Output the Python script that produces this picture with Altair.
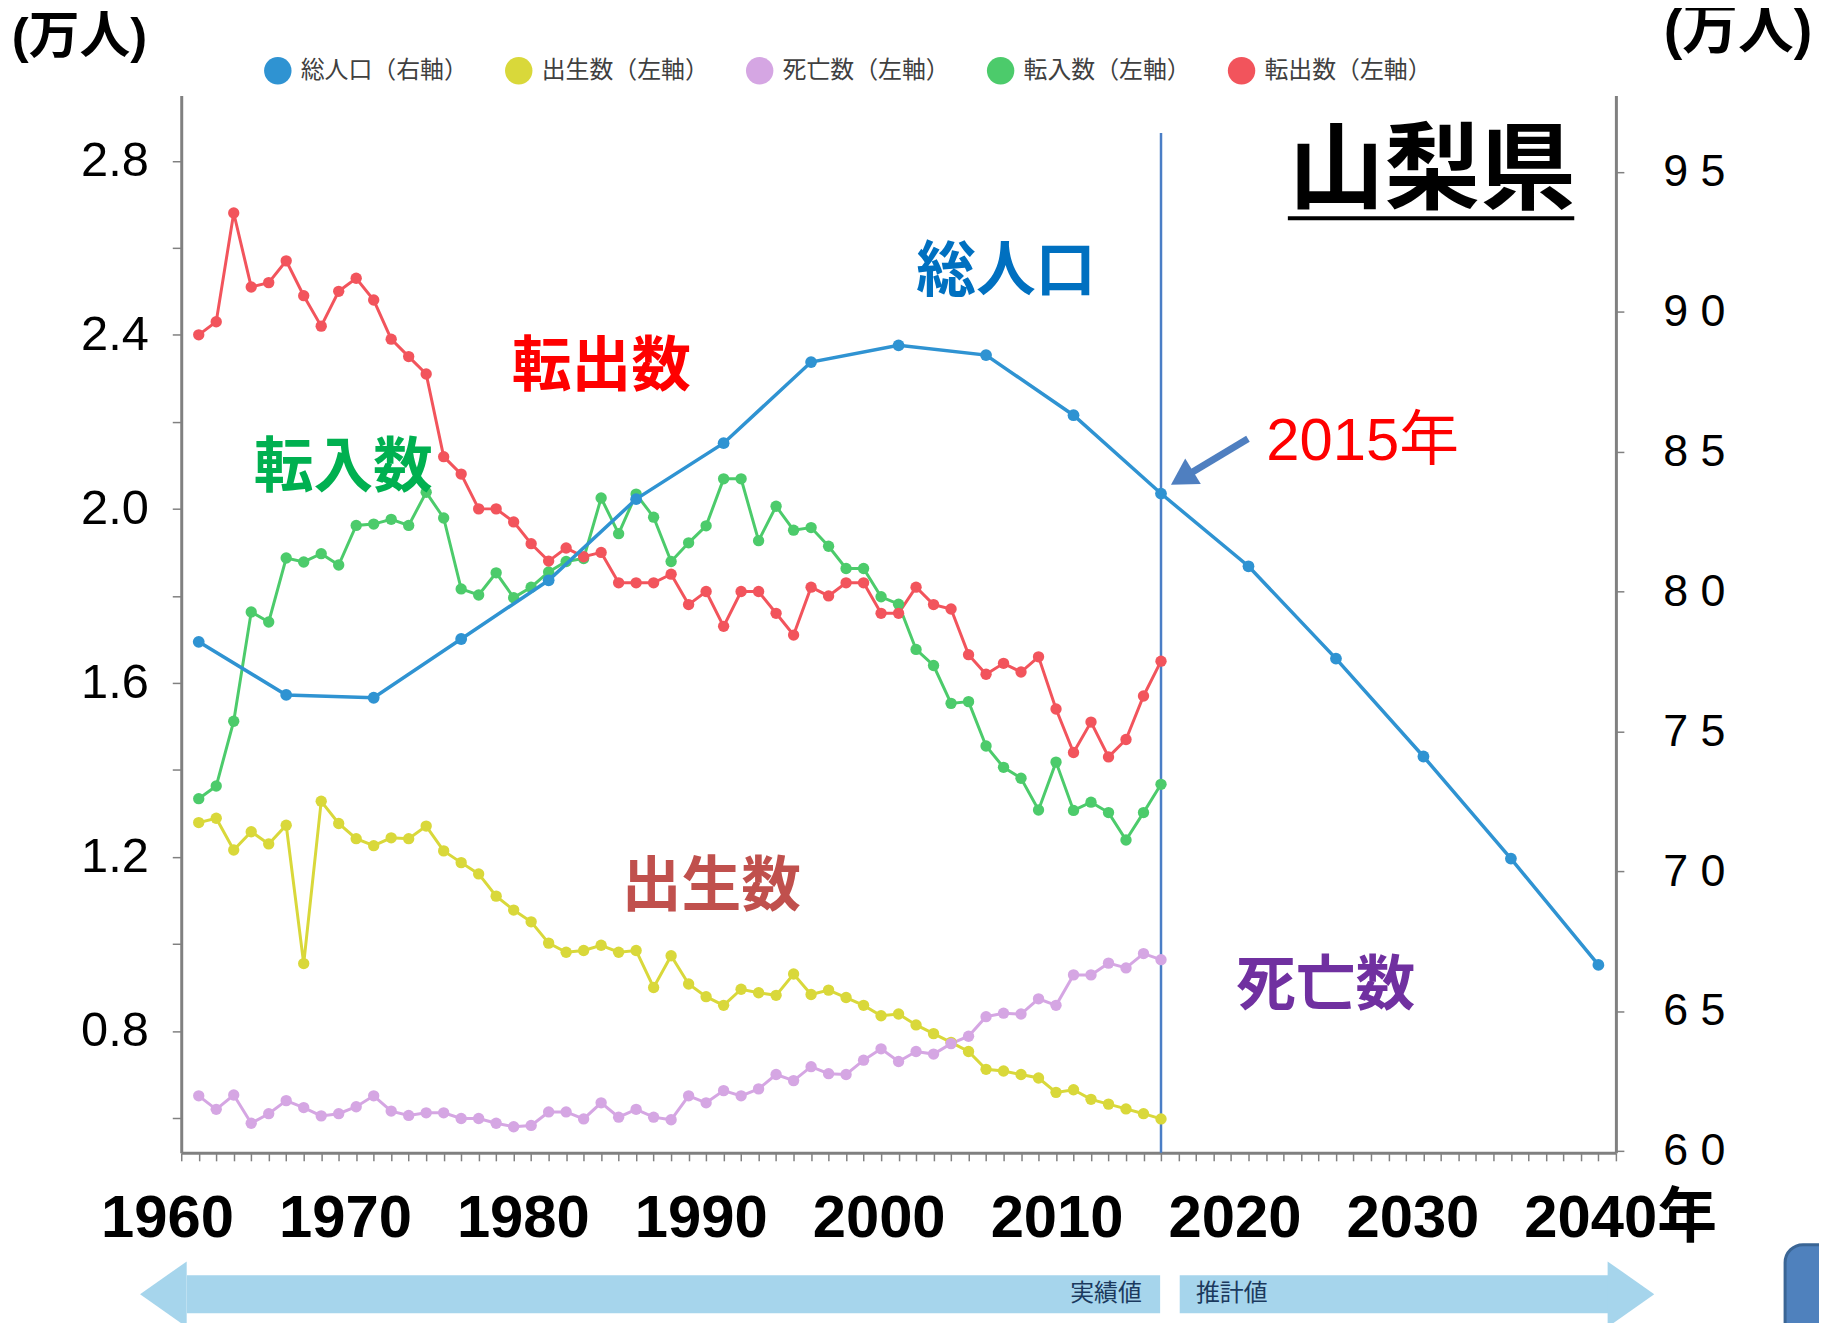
import altair as alt
import pandas as pd

# ---------------- data (万人) ----------------
years = list(range(1960, 2016))
births = [1.279, 1.289, 1.216, 1.258, 1.230, 1.273, 0.955, 1.328, 1.277, 1.242,
          1.226, 1.244, 1.242, 1.271, 1.214, 1.187, 1.161, 1.110, 1.078, 1.051,
          1.002, 0.981, 0.985, 0.997, 0.981, 0.985, 0.900, 0.973, 0.908, 0.879,
          0.859, 0.896, 0.888, 0.882, 0.931, 0.884, 0.894, 0.877, 0.859, 0.835,
          0.839, 0.814, 0.794, 0.774, 0.753, 0.712, 0.708, 0.700, 0.692, 0.659,
          0.665, 0.643, 0.632, 0.621, 0.610, 0.598]
deaths = [0.651, 0.620, 0.653, 0.588, 0.610, 0.640, 0.624, 0.605, 0.610, 0.626,
          0.651, 0.616, 0.606, 0.612, 0.612, 0.599, 0.599, 0.588, 0.580, 0.583,
          0.614, 0.614, 0.598, 0.635, 0.602, 0.620, 0.602, 0.596, 0.651, 0.635,
          0.663, 0.651, 0.667, 0.700, 0.686, 0.718, 0.702, 0.700, 0.733, 0.759,
          0.730, 0.753, 0.747, 0.771, 0.788, 0.833, 0.841, 0.839, 0.874, 0.859,
          0.929, 0.929, 0.956, 0.945, 0.978, 0.964]
moved_in = [1.334, 1.363, 1.512, 1.763, 1.740, 1.887, 1.878, 1.897, 1.871, 1.962,
            1.965, 1.976, 1.962, 2.038, 1.979, 1.816, 1.802, 1.853, 1.796, 1.820,
            1.855, 1.879, 1.886, 2.025, 1.943, 2.034, 1.981, 1.879, 1.922, 1.961,
            2.069, 2.069, 1.927, 2.006, 1.951, 1.957, 1.914, 1.863, 1.863, 1.798,
            1.781, 1.677, 1.640, 1.553, 1.557, 1.455, 1.406, 1.381, 1.308, 1.418,
            1.307, 1.326, 1.302, 1.239, 1.302, 1.367]
moved_out = [2.400, 2.430, 2.680, 2.510, 2.520, 2.570, 2.490, 2.420, 2.500, 2.530,
             2.480, 2.390, 2.350, 2.310, 2.120, 2.080, 2.000, 2.000, 1.970, 1.920,
             1.880, 1.910, 1.890, 1.900, 1.830, 1.830, 1.830, 1.850, 1.780, 1.810,
             1.730, 1.810, 1.810, 1.760, 1.710, 1.820, 1.800, 1.830, 1.830, 1.760,
             1.760, 1.820, 1.780, 1.770, 1.665, 1.620, 1.645, 1.625, 1.660, 1.540,
             1.440, 1.510, 1.430, 1.470, 1.570, 1.650]
pop_years = list(range(1960, 2041, 5))
population = [78.2, 76.3, 76.2, 78.3, 80.4, 83.3, 85.3, 88.2, 88.8, 88.45,
              86.3, 83.5, 80.9, 77.6, 74.1, 70.45, 66.65]

series_names = ["総人口（右軸）", "出生数（左軸）", "死亡数（左軸）", "転入数（左軸）", "転出数（左軸）"]
series_colors = ["#2F93D2", "#D9D83A", "#D5A6E3", "#4CCB6B", "#F2545C"]

x_ticks = list(range(1959, 2042))
decade_labels = list(range(1960, 2041, 10))
left_ticks = [round(0.6 + 0.2 * i, 1) for i in range(12)]
right_ticks = list(range(60, 100, 5))

# ---------------- frames ----------------
annual_df = pd.concat([
    pd.DataFrame({"year": years, "value": vals, "series": name})
    for name, vals in zip(series_names[1:], [births, deaths, moved_in, moved_out])
], ignore_index=True)
pop_df = pd.DataFrame({"year": pop_years, "value": population, "series": series_names[0]})
decade_df = pd.DataFrame({"year": decade_labels})

CJK = "Noto Sans CJK JP"
SANS = "Liberation Sans, Noto Sans CJK JP"
AXIS_GRAY = "#808080"

xscale = alt.Scale(domain=[1959, 2041], nice=False, zero=False)
# the big year labels of the original sit on a slightly wider spacing than the data ticks
xlabel_scale = alt.Scale(domain=[1960, 2040.64], nice=False, zero=False)
yleft = alt.Scale(domain=[0.52, 2.95], nice=False, zero=False)
yright = alt.Scale(domain=[59.93, 97.73], nice=False, zero=False)
cscale = alt.Scale(domain=series_names, range=series_colors)

x_axis = alt.Axis(
    values=x_ticks, tickCount=200, labels=False,
    tickSize=8, tickColor=AXIS_GRAY, tickWidth=1.5,
    domainColor=AXIS_GRAY, domainWidth=3, grid=False, title=None, orient="bottom")

x_label_axis = alt.Axis(
    values=decade_labels, tickCount=50,
    labelExpr="datum.value == 2040 ? '2040年' : toString(datum.value)",
    labelFont=SANS, labelFontSize=60, labelFontWeight="bold", labelColor="#000000",
    labelAlign="left", labelOffset=-81, labelPadding=37, labelOverlap=False, labelFlush=False,
    labelLimit=400, ticks=False, tickSize=0, domain=False, grid=False, title=None,
    orient="bottom")

y_left_axis = alt.Axis(
    values=left_ticks, tickCount=50,
    labelExpr="round(datum.value * 10) % 4 == 0 ? format(datum.value, '.1f') : ''",
    labelFont="Liberation Sans", labelFontSize=49, labelColor="#000000",
    labelPadding=24, labelOverlap=False, labelFlush=False,
    tickSize=9, tickColor=AXIS_GRAY, tickWidth=1.5,
    domainColor=AXIS_GRAY, domainWidth=3, grid=False, title=None, orient="left")

y_right_axis = alt.Axis(
    values=right_ticks, tickCount=50,
    labelExpr="substring(toString(datum.value), 0, 1) + ' ' + substring(toString(datum.value), 1, 2)",
    labelFont="Liberation Sans", labelFontSize=45, labelColor="#000000",
    labelPadding=39, labelOverlap=False, labelFlush=False,
    tickSize=8, tickColor=AXIS_GRAY, tickWidth=1.5,
    domainColor=AXIS_GRAY, domainWidth=3, grid=False, title=None, orient="right")

legend = alt.Legend(
    orient="none", legendX=83, legendY=-39, direction="horizontal", title=None,
    symbolType="circle", symbolSize=760, symbolStrokeWidth=0, symbolOpacity=1,
    labelFont=CJK, labelFontSize=24, labelColor="#404040", labelOffset=9,
    columnPadding=37, labelLimit=400, padding=0)


# helper encodings: no axis=None inside the left group (an explicit null disables the shared axis)
def X(field):
    return alt.X(field, scale=xscale)


def YL(field):
    return alt.Y(field, scale=yleft)


def text_layer(text, x, y, color, size, weight="bold", font=CJK, align="center"):
    df = pd.DataFrame({"x": [x], "y": [y], "t": [text]})
    return alt.Chart(df).mark_text(
        font=font, fontSize=size, fontWeight=weight, color=color,
        align=align, baseline="middle").encode(x=X("x:Q"), y=YL("y:Q"), text="t:N")


# 2015 vertical line
vline = alt.Chart(pd.DataFrame({"x": [2015], "y": [2.864], "y2": [0.52]})).mark_rule(
    color="#4A7EC6", strokeWidth=2.5).encode(x=X("x:Q"), y=YL("y:Q"), y2="y2:Q")

# annual lines (left axis)
annual_lines = alt.Chart(annual_df).mark_line(strokeWidth=3).encode(
    x=alt.X("year:Q", scale=xscale, axis=x_axis),
    y=alt.Y("value:Q", scale=yleft, axis=y_left_axis),
    color=alt.Color("series:N", scale=cscale))
annual_pts = alt.Chart(annual_df).mark_circle(size=130, opacity=1).encode(
    x=X("year:Q"), y=YL("value:Q"),
    color=alt.Color("series:N", scale=cscale, legend=legend))

# bottom band (実績値 / 推計値)
band_col = "#A6D5EC"
band_df = pd.DataFrame({"x": [1959.32, 2016.07], "x2": [2014.95, 2040.55],
                        "y": [0.2385, 0.2385], "y2": [0.1516, 0.1516]})
band = alt.Chart(band_df).mark_rect(color=band_col).encode(
    x=X("x:Q"), x2="x2:Q", y=YL("y:Q"), y2="y2:Q")
head_l = alt.Chart(pd.DataFrame({"x": [1957.98], "y": [0.195]})).mark_point(
    shape="M-0.71,0L0.71,-1L0.71,1Z", size=4356, filled=True, opacity=1,
    color=band_col, strokeWidth=0).encode(x=X("x:Q"), y=YL("y:Q"))
head_r = alt.Chart(pd.DataFrame({"x": [2041.86], "y": [0.195]})).mark_point(
    shape="M0.71,0L-0.71,-1L-0.71,1Z", size=4356, filled=True, opacity=1,
    color=band_col, strokeWidth=0).encode(x=X("x:Q"), y=YL("y:Q"))

corner_box = alt.Chart(pd.DataFrame({"x": [2050.67], "x2": [2058], "y": [0.309], "y2": [-0.6]})).mark_rect(
    color="#4F81BD", stroke="#3A6595", strokeWidth=3, cornerRadius=18).encode(
    x=X("x:Q"), x2="x2:Q", y=YL("y:Q"), y2="y2:Q")

# underline for 山梨県
underline = alt.Chart(pd.DataFrame({"x": [2022.25], "x2": [2038.62], "y": [2.668]})).mark_rule(
    color="#000000", strokeWidth=4).encode(x=X("x:Q"), x2="x2:Q", y=YL("y:Q"))

# arrow to 2015
arrow_col = "#4F7FC0"
arrow_body = alt.Chart(pd.DataFrame({"x": [2019.97], "x2": [2016.4], "y": [2.161], "y2": [2.075]})).mark_rule(
    color=arrow_col, strokeWidth=7).encode(x=X("x:Q"), x2="x2:Q", y=YL("y:Q"), y2="y2:Q")
arrow_head = alt.Chart(pd.DataFrame({"x": [2016.2], "y": [2.071]})).mark_point(
    shape="triangle-up", angle=238.5, size=900, filled=True, opacity=1,
    color=arrow_col, strokeWidth=0).encode(x=X("x:Q"), y=YL("y:Q"))

texts = [
    text_layer("山梨県", 2030.5, 2.771, "#000000", 96),
    text_layer("総人口", 2006.13, 2.541, "#0070C0", 60),
    text_layer("転出数", 1983.01, 2.324, "#FF0000", 60),
    text_layer("転入数", 1968.26, 2.091, "#00B050", 60),
    text_layer("出生数", 1989.30, 1.129, "#C0504D", 60),
    text_layer("死亡数", 2024.41, 0.900, "#7030A0", 60),
    text_layer("2015年", 2026.52, 2.153, "#FF0000", 60, weight="normal", font=SANS),
    text_layer("(万人)", 1949.32, 3.083, "#000000", 51, font=SANS, align="left"),
    text_layer("(万人)", 2043.73, 3.099, "#000000", 56, font=SANS, align="left"),
    text_layer("実績値", 2013.9, 0.195, "#1B3A5E", 24, weight="normal", align="right"),
    text_layer("推計値", 2017.0, 0.195, "#1B3A5E", 24, weight="normal", align="left"),
]

left_group = alt.layer(vline, band, head_l, head_r, corner_box, annual_lines, annual_pts,
                       underline, arrow_body, arrow_head, *texts)

# total population (right axis); its x axis is switched off (same domain as the left group)
pop_line = alt.Chart(pop_df).mark_line(strokeWidth=3.5).encode(
    x=alt.X("year:Q", scale=xscale, axis=None),
    y=alt.Y("value:Q", scale=yright, axis=y_right_axis),
    color=alt.Color("series:N", scale=cscale))
pop_pts = alt.Chart(pop_df).mark_circle(size=140, opacity=1).encode(
    x=alt.X("year:Q", scale=xscale, axis=None),
    y=alt.Y("value:Q", scale=yright),
    color=alt.Color("series:N", scale=cscale))
right_group = alt.layer(pop_line, pop_pts)

# decade year labels
year_labels = alt.Chart(decade_df).mark_point(opacity=0).encode(
    x=alt.X("year:Q", scale=xlabel_scale, axis=x_label_axis),
    y=alt.value(0))

chart = alt.layer(left_group, right_group, year_labels).resolve_scale(
    x="independent", y="independent").properties(
    width=1441, height=1062,
    padding={"left": 174, "top": 85, "right": 204, "bottom": 168},
    autosize=alt.AutoSizeParams(type="none"),
    background="white",
).configure_view(stroke=None)

chart.save("out.html", embed_options={"renderer": "svg", "actions": False})
